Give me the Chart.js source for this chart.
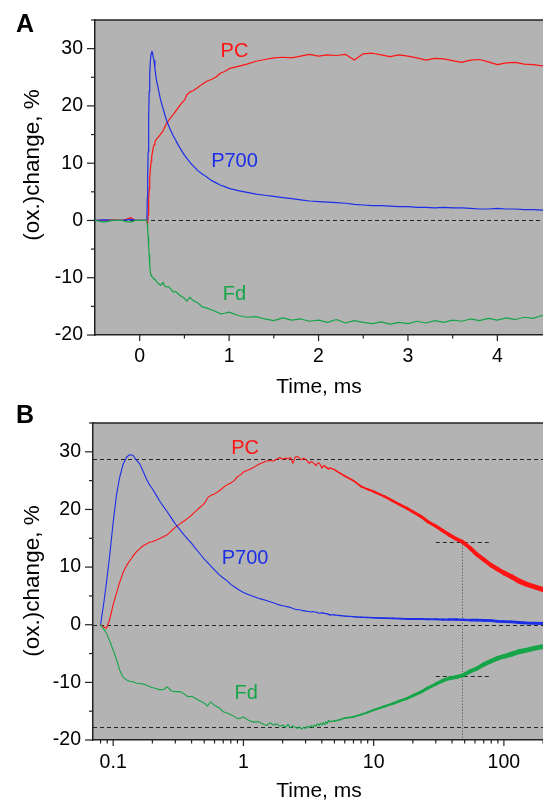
<!DOCTYPE html>
<html>
<head>
<meta charset="utf-8">
<script src="https://cdn.jsdelivr.net/npm/chart.js@4.4.0/dist/chart.umd.min.js"></script>
<style>
  html, body { margin: 0; padding: 0; background: #fff; overflow: hidden; }
  body { width: 543px; height: 800px; position: relative; }
  .panel { position: absolute; left: 0; width: 560px; height: 400px; }
</style>
</head>
<body>
<div class="panel" style="top:0"><canvas id="chartA" width="560" height="400"></canvas></div>
<div class="panel" style="top:400px"><canvas id="chartB" width="560" height="400"></canvas></div>
<script>
// flash-induced transients, time in ms, values in % of full oxidation
const timeMs = [
  -0.5, -0.4, -0.3, -0.2, -0.15, -0.1, -0.05, 0, 0.05, 0.08,
  0.085, 0.089, 0.094, 0.1, 0.106, 0.112, 0.119, 0.127, 0.134, 0.142,
  0.15, 0.16, 0.17, 0.18, 0.19, 0.2, 0.215, 0.23, 0.245, 0.26,
  0.28, 0.3, 0.325, 0.35, 0.375, 0.4, 0.43, 0.46, 0.5, 0.53,
  0.56, 0.6, 0.65, 0.7, 0.75, 0.8, 0.85, 0.9, 0.95, 1.0,
  1.1, 1.2, 1.3, 1.4, 1.5, 1.6, 1.7, 1.8, 1.9, 2.0,
  2.1, 2.2, 2.3, 2.4, 2.5, 2.6, 2.7, 2.8, 2.9, 3.0,
  3.1, 3.2, 3.3, 3.4, 3.5, 3.6, 3.7, 3.8, 3.9, 4.0,
  4.1, 4.2, 4.3, 4.4, 4.5, 4.6, 5, 5.5, 6, 7,
  8, 9, 10, 12, 14, 16, 18, 20, 23, 26,
  30, 34, 38, 43, 48, 55, 62, 70, 80, 90,
  100, 115, 130, 150, 170, 200, 230
];
const pcValues = [
  0, 0, 0.1, 0, 0.2, 0.5, 0, 0, 0, 0,
  -0.4, -0.6, 0.9, 3.5, 5.5, 7.3, 9.0, 10.3, 11.1, 11.9,
  12.6, 13.2, 13.7, 14.0, 14.3, 14.4, 14.7, 15.0, 15.3, 15.6,
  16.3, 16.9, 17.5, 18.0, 18.5, 19.0, 19.7, 20.3, 21.0, 22.0,
  22.4, 22.7, 23.2, 23.8, 24.3, 24.6, 25.0, 25.7, 26.0, 26.5,
  26.9, 27.3, 27.8, 28.1, 28.4, 28.5, 28.4, 28.7, 29.0, 28.7,
  28.9, 28.8, 29.0, 28.0, 29.1, 29.2, 28.9, 28.6, 28.9, 28.7,
  28.4, 28.0, 28.3, 28.2, 27.9, 27.6, 28.0, 28.1, 27.7, 27.2,
  27.5, 27.6, 27.3, 27.2, 27.0, 27.2, 26.9, 26.3, 25.8, 25.0,
  24.0, 23.5, 23.1, 22.3, 21.5, 20.8, 20.2, 19.6, 18.8, 17.9,
  17.1, 16.3, 15.6, 14.9, 14.4, 13.3, 12.2, 11.3, 10.3, 9.6,
  9.0, 8.3, 7.6, 7.0, 6.6, 6.1, 5.7
];
const p700Values = [
  0, 0.1, 0, 0, 0.1, 0.2, 0, 0, 0, 0,
  4.0, 7.5, 12.0, 17.8, 22.5, 25.5, 27.8, 29.1, 29.5, 29.4,
  28.6, 27.9, 26.6, 25.3, 24.3, 23.6, 22.4, 21.3, 20.4, 19.6,
  18.5, 17.5, 16.5, 15.6, 14.8, 14.1, 13.2, 12.4, 11.4, 10.8,
  10.2, 9.5, 8.7, 8.1, 7.6, 7.0, 6.6, 6.2, 5.9, 5.6,
  5.2, 4.9, 4.6, 4.4, 4.2, 4.0, 3.8, 3.6, 3.4, 3.3,
  3.2, 3.1, 3.0, 2.8, 2.7, 2.6, 2.6, 2.5, 2.4, 2.4,
  2.3, 2.3, 2.2, 2.3, 2.2, 2.2, 2.1, 2.0, 2.0, 2.1,
  2.0, 2.0, 1.9, 1.9, 1.8, 1.7, 1.7, 1.6, 1.5, 1.4,
  1.3, 1.25, 1.2, 1.15, 1.1, 1.05, 1.0, 1.0, 1.0, 0.95,
  0.95, 0.9, 0.9, 0.9, 0.85, 0.8, 0.8, 0.75, 0.7, 0.6,
  0.55, 0.5, 0.4, 0.3, 0.25, 0.2, 0.1
];
const fdValues = [
  0, -0.3, 0, 0, -0.2, -0.3, 0, 0, 0, 0,
  -0.8, -1.5, -2.8, -4.4, -6.0, -7.8, -9.1, -9.6, -9.8, -9.9,
  -10.1, -10.2, -10.3, -10.5, -10.7, -10.9, -11.1, -11.3, -11.2, -10.8,
  -11.5, -11.6, -11.6, -12.0, -12.5, -12.4, -12.8, -13.2, -13.6, -14.1,
  -13.4, -14.0, -14.4, -15.1, -15.3, -15.6, -15.9, -16.3, -16.2, -16.0,
  -16.6, -16.9, -16.8, -17.2, -17.5, -17.0, -17.4, -17.2, -17.6, -17.4,
  -17.8, -17.3, -17.9, -17.5, -17.8, -18.0, -17.7, -18.1, -17.8, -18.0,
  -17.6, -17.9, -17.5, -17.8, -17.4, -17.6, -17.2, -17.5, -17.1, -17.4,
  -17.0, -17.3, -16.9, -17.1, -16.6, -16.8, -16.7, -16.5, -16.2, -16.0,
  -15.6, -15.2, -14.8, -14.2, -13.7, -13.2, -12.8, -12.3, -11.7, -11.0,
  -10.3, -9.7, -9.3, -9.1, -8.8, -8.1, -7.6, -6.9, -6.3, -5.8,
  -5.5, -5.1, -4.7, -4.4, -4.1, -3.8, -3.5
];

const yTickLabels = [-20, -10, 0, 10, 20, 30];
const xTickLabelsA = [0, 1, 2, 3, 4];
const xTickLabelsB = [0.1, 1, 10, 100];

// plateau levels and half-time marked in the log panel
const pcPlateau = 28.8;
const fdPlateau = -17.75;
const halfTimeMs = 48;

const FONT = '"Liberation Sans", Arial, sans-serif';
Chart.defaults.font.family = FONT;
Chart.defaults.color = '#000';

const colors = { pc: '#ff1414', p700: '#1c2ee8', fd: '#16a548' };

function points(values, keep) {
  const out = [];
  timeMs.forEach((t, i) => { if (keep(t)) out.push({ x: t, y: values[i] }); });
  return out;
}

// the log view packs many noisy samples per pixel at long times: widen the trace
function bandWidth(t, widest) {
  if (t <= 4) return 1.1;
  const f = Math.min(1, Math.log10(t / 4) / Math.log10(150 / 4));
  return 1.1 + (widest - 1.1) * f;
}

function line(ctx, x1, y1, x2, y2) {
  ctx.beginPath(); ctx.moveTo(x1, y1); ctx.lineTo(x2, y2); ctx.stroke();
}

const panelPlugin = {
  id: 'panel',
  beforeDraw(chart) {
    const { ctx, chartArea: a } = chart;
    ctx.save();
    ctx.fillStyle = '#b3b3b3';
    ctx.fillRect(a.left, a.top, a.right - a.left, a.bottom - a.top);
    ctx.restore();
  },
  beforeDatasetsDraw(chart, args, o) {
    const { ctx, chartArea: a, scales: { x, y } } = chart;
    ctx.save();
    ctx.beginPath(); ctx.rect(a.left, a.top, a.right - a.left, a.bottom - a.top); ctx.clip();
    ctx.strokeStyle = '#262626';
    ctx.lineWidth = 1;
    ctx.setLineDash([4, 3]);
    o.levels.forEach(v => {
      const py = Math.round(y.getPixelForValue(v)) + 0.5;
      line(ctx, a.left, py, a.right, py);
    });
    (o.marks || []).forEach(m => {
      const py = Math.round(y.getPixelForValue(m.level)) + 0.5;
      line(ctx, x.getPixelForValue(m.from), py, x.getPixelForValue(m.to), py);
    });
    if (o.halfTime) {
      ctx.strokeStyle = '#444';
      ctx.setLineDash([1, 2]);
      const px = Math.round(x.getPixelForValue(o.halfTime.t)) + 0.5;
      line(ctx, px, y.getPixelForValue(o.halfTime.level), px, a.bottom);
    }
    ctx.restore();
  },
  afterDraw(chart, args, o) {
    const { ctx, chartArea: a, scales: { x, y } } = chart;
    ctx.save();
    ctx.strokeStyle = '#222';
    ctx.lineWidth = 1.5;
    line(ctx, a.left, a.top, a.right, a.top);

    ctx.lineWidth = 1.2;
    x.ticks.forEach(tk => {
      const kind = o.xTickKind(tk.value);
      const px = x.getPixelForValue(tk.value);
      if (!kind || px < a.left + 1 || px > a.right) return;
      line(ctx, px, a.bottom, px, a.bottom + (kind === 2 ? 6 : 3.5));
    });
    y.ticks.forEach(tk => {
      const v = tk.value;
      if (Math.abs(v / 5 - Math.round(v / 5)) > 1e-6) return;
      const major = yTickLabels.includes(Math.round(v));
      const py = y.getPixelForValue(v);
      line(ctx, a.left - (major ? 8 : 4), py, a.left, py);
    });

    // trace names
    ctx.font = '20px ' + FONT;
    ctx.textAlign = 'center';
    ctx.textBaseline = 'middle';
    o.names.forEach(n => {
      ctx.fillStyle = n.color;
      ctx.fillText(n.text, x.getPixelForValue(n.t), y.getPixelForValue(n.v));
    });

    // axis titles and panel letter
    ctx.fillStyle = '#000';
    ctx.textBaseline = 'alphabetic';
    ctx.font = '21px ' + FONT;
    ctx.fillText('Time, ms', 319, o.xTitleY);
    ctx.save();
    ctx.translate(33, o.yTitleY);
    ctx.rotate(-Math.PI / 2);
    ctx.textBaseline = 'middle';
    ctx.font = '22.5px ' + FONT;
    ctx.fillText('(ox.)change, %', 0, 0);
    ctx.restore();
    ctx.textAlign = 'left';
    ctx.font = 'bold 25px ' + FONT;
    ctx.fillText(o.letter, 16, o.letterY);
    ctx.restore();
  }
};

function yScale(width) {
  return {
    min: -20, max: 35,
    afterFit(s) { s.width = width; },
    ticks: {
      stepSize: 5, padding: 4, font: { size: 19.5 }, color: '#000',
      callback: v => yTickLabels.includes(Math.round(v)) && Math.abs(v - Math.round(v)) < 1e-6 ? String(Math.round(v)) : ''
    },
    grid: { drawOnChartArea: false, drawTicks: true, tickLength: 8, tickColor: 'rgba(0,0,0,0)' },
    border: { display: true, color: '#222', width: 1.5 }
  };
}

function dataset(label, values, color, keep, widest) {
  const ds = {
    label, data: points(values, keep),
    borderColor: color, borderWidth: 1.2, pointRadius: 0, tension: 0,
    borderCapStyle: 'round', borderJoinStyle: 'round', fill: false
  };
  if (widest) ds.segment = { borderWidth: c => bandWidth(c.p1.parsed.x, widest) };
  return ds;
}

const common = {
  responsive: false, animation: false, events: [],
  plugins: { legend: { display: false }, tooltip: { enabled: false } }
};

// A: linear time axis around the flash
new Chart(document.getElementById('chartA'), {
  type: 'line',
  data: {
    datasets: [
      dataset('Fd', fdValues, colors.fd, () => true),
      dataset('P700', p700Values, colors.p700, () => true),
      dataset('PC', pcValues, colors.pc, () => true)
    ]
  },
  options: {
    ...common,
    layout: { padding: { top: 20, right: 9, left: 0, bottom: 0 } },
    scales: {
      x: {
        type: 'linear', min: -0.5, max: 4.6,
        afterFit(s) { s.height = 65; },
        ticks: {
          stepSize: 0.5, padding: 4, maxRotation: 0, autoSkip: false, font: { size: 19.5 }, color: '#000',
          callback: v => xTickLabelsA.find(l => Math.abs(v - l) < 1e-6) !== undefined ? String(Math.round(v)) : ''
        },
        grid: { drawOnChartArea: false, drawTicks: true, tickLength: 6, tickColor: 'rgba(0,0,0,0)' },
        border: { display: true, color: '#222', width: 1.5 }
      },
      y: yScale(95)
    },
    plugins: {
      ...common.plugins,
      panel: {
        levels: [0],
        xTickKind: v => Math.abs(v * 2 - Math.round(v * 2)) > 1e-6 ? 0 : (Math.abs(v - Math.round(v)) < 1e-6 ? 2 : 1),
        names: [
          { text: 'PC', t: 1.06, v: 29.5, color: colors.pc },
          { text: 'P700', t: 1.06, v: 10.3, color: colors.p700 },
          { text: 'Fd', t: 1.06, v: -13.0, color: colors.fd }
        ],
        xTitleY: 393, yTitleY: 165, letter: 'A', letterY: 32
      }
    }
  },
  plugins: [panelPlugin]
});

// B: the same transients on a log time axis, out to 200 ms
const afterFlash = t => t >= 0.08;
new Chart(document.getElementById('chartB'), {
  type: 'line',
  data: {
    datasets: [
      dataset('Fd', fdValues, colors.fd, afterFlash, 5),
      dataset('P700', p700Values, colors.p700, afterFlash, 3),
      dataset('PC', pcValues, colors.pc, afterFlash, 5)
    ]
  },
  options: {
    ...common,
    layout: { padding: { top: 23, right: 9, left: 0, bottom: 0 } },
    scales: {
      x: {
        type: 'logarithmic', min: 0.07, max: 230,
        afterFit(s) { s.height = 60; },
        ticks: {
          padding: 5, maxRotation: 0, autoSkip: false, font: { size: 19.5 }, color: '#000',
          callback: v => {
            const hit = xTickLabelsB.find(l => Math.abs(v / l - 1) < 1e-6);
            return hit !== undefined ? String(hit) : '';
          }
        },
        grid: { drawOnChartArea: false, drawTicks: true, tickLength: 6, tickColor: 'rgba(0,0,0,0)' },
        border: { display: true, color: '#222', width: 1.5 }
      },
      y: yScale(93)
    },
    plugins: {
      ...common.plugins,
      panel: {
        levels: [pcPlateau, 0, fdPlateau],
        marks: [
          { level: pcPlateau / 2, from: 30, to: 80 },
          { level: fdPlateau / 2, from: 30, to: 80 }
        ],
        halfTime: { t: halfTimeMs, level: pcPlateau / 2 },
        xTickKind: v => {
          const m = v / Math.pow(10, Math.floor(Math.log10(v) + 1e-9));
          if (Math.abs(m - Math.round(m)) > 1e-6) return 0;
          return Math.round(m) === 1 ? 2 : 1;
        },
        names: [
          { text: 'PC', t: 1.03, v: 30.5, color: colors.pc },
          { text: 'P700', t: 1.03, v: 11.5, color: colors.p700 },
          { text: 'Fd', t: 1.05, v: -11.9, color: colors.fd }
        ],
        xTitleY: 397, yTitleY: 181, letter: 'B', letterY: 23
      }
    }
  },
  plugins: [panelPlugin]
});
</script>
</body>
</html>
